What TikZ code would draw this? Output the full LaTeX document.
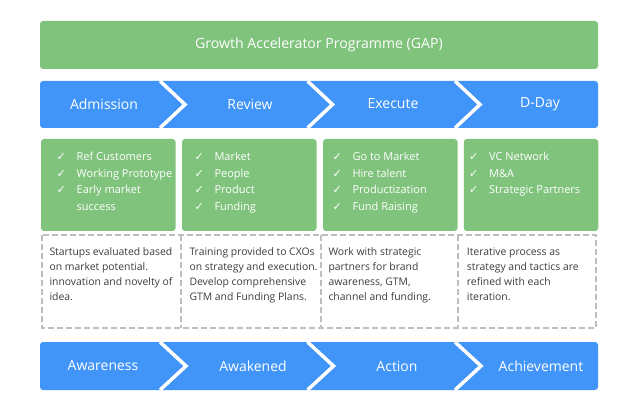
\documentclass[tikz,border=0pt]{standalone}
\usepackage{fontspec}
\setmainfont{Open Sans}
\newfontfamily\symfont{DejaVu Sans}
\definecolor{gapgreen}{HTML}{80C37C}
\definecolor{gapblue}{HTML}{4195F9}
\definecolor{gapgrey}{HTML}{BEBEBE}
\definecolor{gaptext}{HTML}{3C3C3C}
\newcommand{\tick}{\makebox[20pt][l]{\symfont ✓}}

\begin{document}
\begin{tikzpicture}[x=1pt,y=-1pt,
  every node/.style={inner sep=0pt},
  banner/.style={fill=gapgreen, rounded corners=3pt, minimum width=558pt, minimum height=48pt, text=white, font=\fontsize{14.1}{16}\selectfont},
  greenbox/.style={fill=gapgreen, rounded corners=3pt, minimum width=134.5pt, minimum height=92pt},
  barlabel/.style={text=white, font=\fontsize{14}{16}\selectfont},
  listtext/.style={text=white, anchor=base west, font=\fontsize{11}{16.7}\selectfont},
  notetext/.style={text=gaptext, anchor=base west, font=\fontsize{10.4}{15}\selectfont},
  notebox/.style={draw=gapgrey, line width=2pt, dash pattern=on 6pt off 3pt},
  notch/.style={draw=white, line width=3.5pt}]
\useasboundingbox (0,0) rectangle (640,414);

\node[banner] (gap) at (319,45) {Growth Accelerator Programme (GAP)};

\fill[gapblue, rounded corners=3pt] (40,81) rectangle (598,128);
\draw[notch] (160,81) -- (185,104.5) -- (160,128);
\draw[notch] (307.5,81) -- (332.5,104.5) -- (307.5,128);
\draw[notch] (455,81) -- (480,104.5) -- (455,128);
\node[barlabel] (admission) at (104,104) {Admission};
\node[barlabel] (review) at (250,104) {Review};
\node[barlabel] (execute) at (393,104) {Execute};
\node[barlabel] (dday) at (540,104) {D-Day};

\node[greenbox] (adm box) at (108.25,185) {};
\node[greenbox] (rev box) at (249.25,185) {};
\node[greenbox] (exe box) at (390.25,185) {};
\node[greenbox] (day box) at (531,185) {};

\node[listtext] (adm list) at (56.5,160.5) {\begin{tabular}[t]{@{}l@{}l@{}}
\tick & Ref Customers\\ \tick & Working Prototype\\ \tick & Early market\\ & success\end{tabular}};
\node[listtext] (rev list) at (194.3,160.5) {\begin{tabular}[t]{@{}l@{}l@{}}
\tick & Market\\ \tick & People\\ \tick & Product\\ \tick & Funding\end{tabular}};
\node[listtext] (exe list) at (332.3,160.5) {\begin{tabular}[t]{@{}l@{}l@{}}
\tick & Go to Market\\ \tick & Hire talent\\ \tick & Productization\\ \tick & Fund Raising\end{tabular}};
\node[listtext] (day list) at (469,160.5) {\begin{tabular}[t]{@{}l@{}l@{}}
\tick & VC Network\\ \tick & M\&A\\ \tick & Strategic Partners\end{tabular}};

\draw[notebox] (42,235) rectangle (596,328);
\draw[notebox] (181,235) -- (181,328);
\draw[notebox] (320.5,235) -- (320.5,328);
\draw[notebox] (458,235) -- (458,328);

\node[notetext] (adm note) at (49.3,255) {\begin{tabular}[t]{@{}l@{}}
Startups evaluated based\\ on market potential.\\ innovation and novelty of\\ idea.\end{tabular}};
\node[notetext] (rev note) at (189.3,255) {\begin{tabular}[t]{@{}l@{}}
Training provided to CXOs\\ on strategy and execution.\\ Develop comprehensive\\ GTM and Funding Plans.\end{tabular}};
\node[notetext] (exe note) at (328.3,255) {\begin{tabular}[t]{@{}l@{}}
Work with strategic\\ partners for brand\\ awareness, GTM,\\ channel and funding.\end{tabular}};
\node[notetext] (day note) at (466.7,255) {\begin{tabular}[t]{@{}l@{}}
Iterative process as\\ strategy and tactics are\\ refined with each\\ iteration.\end{tabular}};

\fill[gapblue, rounded corners=3pt] (40,342) rectangle (598,390);
\draw[notch] (160,342) -- (186,366) -- (160,390);
\draw[notch] (307.5,342) -- (333.5,366) -- (307.5,390);
\draw[notch] (455,342) -- (481,366) -- (455,390);
\node[barlabel] (awareness) at (103,366) {Awareness};
\node[barlabel] (awakened) at (253,366) {Awakened};
\node[barlabel] (action) at (397,366) {Action};
\node[barlabel] (achievement) at (541,366) {Achievement};
\end{tikzpicture}
\end{document}
